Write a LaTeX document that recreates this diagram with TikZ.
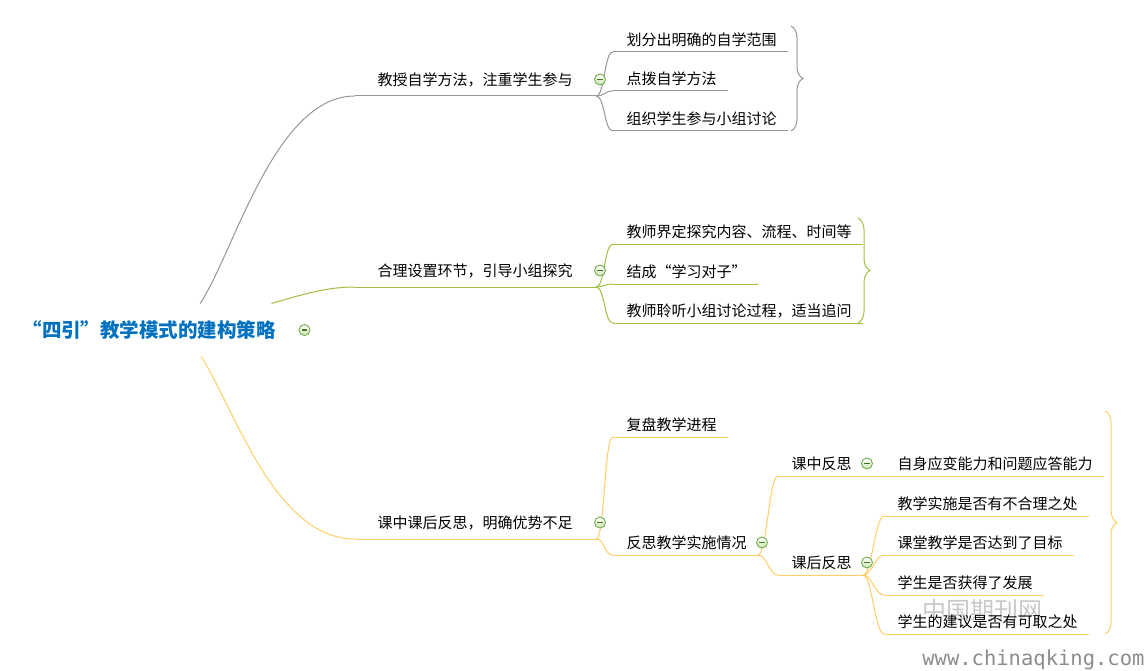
\documentclass[tikz,border=0pt]{standalone}
\usepackage{fontspec}
\setmainfont{Noto Sans CJK SC}[RawFeature=+fwid]
\newfontfamily\webfont{DejaVu Sans Mono}
\usetikzlibrary{decorations.pathreplacing}
\definecolor{rootblue}{RGB}{0,112,192}
\definecolor{greyline}{RGB}{150,150,150}
\definecolor{greenline}{RGB}{160,192,64}
\definecolor{yellowline}{RGB}{255,206,102}
\definecolor{foldgreen}{RGB}{100,165,60}
\definecolor{foldfill}{RGB}{205,230,175}
\definecolor{markgrey}{RGB}{200,200,200}
\definecolor{webgrey}{RGB}{140,140,140}

\begin{document}
\begin{tikzpicture}[x=1pt,y=-1pt,line width=1pt,
    lbl/.style={inner sep=0pt,anchor=south west,text height=12pt,
                font=\fontsize{15pt}{15pt}\selectfont},
    topic/.style={lbl,text depth=6.3pt,
                  execute at begin node={\hspace*{13pt}},
                  execute at end node={\hspace*{11pt}}},
    main/.style={lbl,text depth=10.3pt,
                 execute at begin node={\hspace*{22pt}},
                 execute at end node={\hspace*{23pt}}},
    fold/.style={circle,draw=foldgreen,line width=0.8pt,inner sep=0pt,
                 minimum size=11pt,top color=white,bottom color=foldfill,
                 path picture={\draw[foldgreen!70!black,line width=1.2pt]
                   ([xshift=-2.8pt]path picture bounding box.center) --
                   ([xshift=2.8pt]path picture bounding box.center);}},
    kid/.style={to path={.. controls +(9,0) and +(-9,0) .. (\tikztotarget)}},
    fence/.style={decorate,decoration={brace,amplitude=12pt}}]
\useasboundingbox (0,0) rectangle (1148,671);

% watermark
\node[text=markgrey,font=\fontsize{24pt}{24pt}\selectfont] (mark) at (982,610) {中国期刊网};
\node[text=webgrey,font=\webfont\fontsize{20.5pt}{21pt}\selectfont,anchor=east,inner sep=0pt] (site) at (1145,660) {www.chinaqking.com};

% root
\node[inner sep=0pt,minimum height=52pt,anchor=west,text=rootblue,
      font=\fontsize{19.5pt}{20pt}\selectfont\bfseries] (root) at (22,330) {“四引”教学模式的建构策略};

% topics
\node[main] (b1) at (355,96) {教授自学方法，注重学生参与};
\node[main] (b2) at (355,287) {合理设置环节，引导小组探究};
\node[main] (b3) at (355,539) {课中课后反思，明确优势不足};
\begin{scope}[every node/.style={topic}]
    \node (c11) at (613,52) {划分出明确的自学范围};
    \node (c12) at (613,91) {点拨自学方法};
    \node (c13) at (613,131) {组织学生参与小组讨论};
    \node (c21) at (613,244) {教师界定探究内容、流程、时间等};
    \node (c22) at (613,284) {结成“学习对子”};
    \node (c23) at (613,323) {教师聆听小组讨论过程，适当追问};
    \node (c31) at (613,437) {复盘教学进程};
    \node (c32) at (613,555) {反思教学实施情况};
    \node (d1) at (778,476) {课中反思};
    \node (d2) at (778,575) {课后反思};
    \node (e1) at (884,476) {自身应变能力和问题应答能力};
    \node (e2) at (884,516) {教学实施是否有不合理之处};
    \node (e3) at (884,555) {课堂教学是否达到了目标};
    \node (e4) at (884,595) {学生是否获得了发展};
    \node (e5) at (884,634) {学生的建议是否有可取之处};
\end{scope}

% grey branch
\begin{scope}[color=greyline,every edge/.style={draw,kid}]
    \foreach \n in {b1,c11,c12,c13}
        \draw (\n.south west) -- (\n.south east);
    \draw ([xshift=51pt]root.north) .. controls (235,250) and (275,96) .. (b1.south west);
    \path (b1.south east) edge (c11.south west) edge (c12.south west) edge (c13.south west);
    \draw[fence] (791,26) -- (791,131);
\end{scope}

% green branch
\begin{scope}[color=greenline,every edge/.style={draw,kid}]
    \foreach \n in {b2,c21,c22,c23}
        \draw (\n.south west) -- (\n.south east);
    \draw ([xshift=-5pt]root.north east) .. controls (310,292) and (330,287) .. (b2.south west);
    \path (b2.south east) edge (c21.south west) edge (c22.south west) edge (c23.south west);
    \draw[fence] (858,218) -- (858,323);
\end{scope}

% yellow branch
\begin{scope}[color=yellowline,every edge/.style={draw,kid}]
    \foreach \n in {b3,c31,c32,d1,d2,e1,e2,e3,e4,e5}
        \draw (\n.south west) -- (\n.south east);
    \draw ([xshift=52pt]root.south) .. controls (235,410) and (275,539) .. (b3.south west);
    \path (b3.south east) edge (c31.south west) edge (c32.south west);
    \path (c32.south east) edge (d1.south west) edge (d2.south west);
    \draw (d1.south east) -- (e1.south west);
    \path (d2.south east) edge (e2.south west) edge (e3.south west)
                          edge (e4.south west) edge (e5.south west);
    \draw[fence] (1105,411) -- (1105,634);
\end{scope}

% fold marks
\node[fold] (f0) at ([xshift=28pt]root.east) {};
\foreach \n in {b1,b2,b3,c32,d1,d2}
    \node[fold] (f\n) at ([xshift=4pt,yshift=5.7pt]\n.base east) {};
\end{tikzpicture}
\end{document}
